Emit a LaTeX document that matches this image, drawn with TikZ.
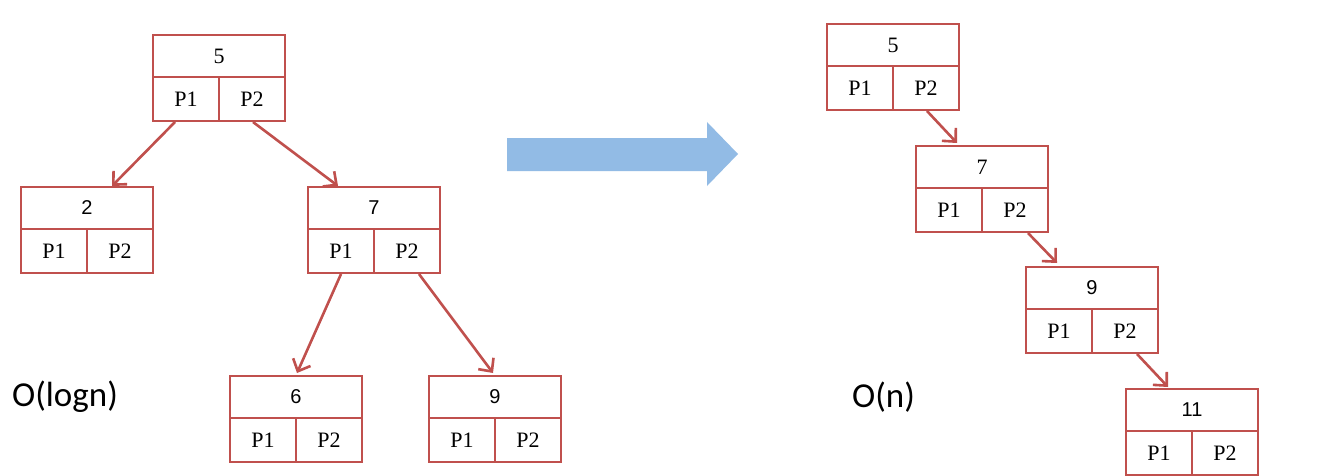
\documentclass[tikz,border=0pt]{standalone}
\usepackage{fontspec}
\setmainfont{Liberation Serif}
\newfontfamily\labsans{Liberation Sans}
\newfontfamily\cali{Carlito}
\usetikzlibrary{arrows.meta,calc}
\definecolor{boxred}{HTML}{C0504D}
\definecolor{bigblue}{RGB}{146,187,229}
\tikzset{
  cellbox/.style={draw=boxred, line width=2pt, inner sep=0pt, outer sep=0pt,
    minimum width=132pt, minimum height=42pt, font=\fontsize{22}{24}\selectfont},
  halfbox/.style={draw=boxred, line width=2pt, inner sep=0pt, outer sep=0pt,
    minimum width=66pt, minimum height=44pt, font=\fontsize{22}{24}\selectfont},
  conn/.style={draw=boxred, line width=2.6pt, -{Straight Barb[length=10pt,width=19pt,line width=2.6pt]}},
  bigtext/.style={inner sep=0pt, anchor=west, font=\cali\fontsize{35}{40}\selectfont},
  sanslab/.style={font=\labsans\fontsize{20}{22}\selectfont}
}
% name, x, y, label, extra style for label cell
\newcommand\bnode[5]{%
  \node[cellbox, anchor=north west, #5] (#1t) at (#2,#3) {#4};
  \node[halfbox, anchor=north west] (#1a) at (#1t.south west) {P1};
  \node[halfbox, anchor=north east] (#1b) at (#1t.south east) {P2};
}
\begin{document}
\begin{tikzpicture}[x=1pt,y=-1pt]
\useasboundingbox (0,0) rectangle (1324,476);
\clip (0,0) rectangle (1324,476);
\fill[white] (0,0) rectangle (1324,476);

% left tree
\bnode{la}{153}{35}{5}{}
\bnode{lb}{21}{187}{2}{sanslab}
\bnode{lc}{308}{187}{7}{sanslab}
\bnode{ld}{230}{376}{6}{sanslab}
\bnode{le}{429}{376}{9}{sanslab}

\draw[conn] ($(laa.south)+(-11,1)$) -- ($(lbt.north west)+(91,-1)$);
\draw[conn] ($(lab.south)+(1,1)$) -- ($(lct.north west)+(30,-1)$);
\draw[conn] ($(lca.south)+(0,1)$) -- ($(ldt.north west)+(67,-3)$);
\draw[conn] ($(lcb.south)+(12,1)$) -- ($(let.north west)+(64,-3)$);

% big arrow
\fill[bigblue] (507,138) -- (707,138) -- (707,122) -- (738,154) -- (707,186)
  -- (707,171) -- (507,171) -- cycle;

% right chain
\bnode{ra}{827}{24}{5}{}
\bnode{rb}{916}{146}{7}{}
\bnode{rc}{1026}{267}{9}{sanslab}
\bnode{rd}{1126}{389}{11}{sanslab}
\coordinate (rout) at (1250,500);

\draw[conn] ($(rab.south)+(1,1)$) -- ($(rbt.north west)+(41,-3)$);
\draw[conn] ($(rbb.south)+(13,1)$) -- ($(rct.north west)+(31,-4)$);
\draw[conn] ($(rcb.south)+(12,1)$) -- ($(rdt.north west)+(42,-2)$);
\draw[draw=boxred, line width=2.6pt] ($(rdb.south)+(12,1)$) -- (rout);

% complexity labels
\node[bigtext] (ologn) at (12,397) {O(logn)};
\node[bigtext] (on) at (852,397) {O(n)};
\end{tikzpicture}
\end{document}
